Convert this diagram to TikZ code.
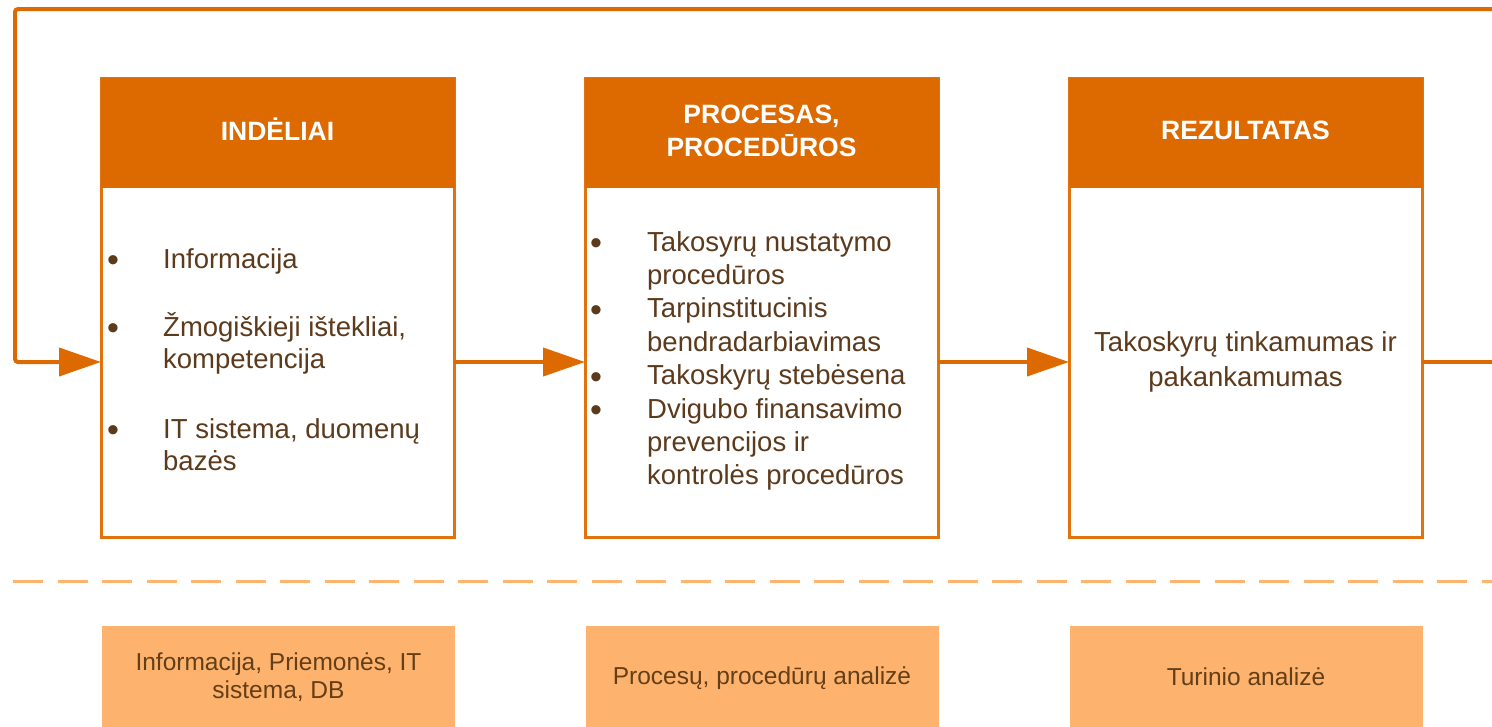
\documentclass[tikz,border=0pt]{standalone}
\usepackage{fontspec}
\setmainfont{Liberation Sans}
\usetikzlibrary{arrows.meta}
\definecolor{hdr}{RGB}{221,106,0}
\definecolor{brd}{RGB}{226,114,12}
\definecolor{lt}{RGB}{253,179,110}
\definecolor{dsh}{RGB}{255,180,112}
\definecolor{txt}{RGB}{92,58,28}
\definecolor{btxt}{RGB}{100,62,22}
\begin{document}
\begin{tikzpicture}[x=1pt,y=-1pt,
  bodybox/.style={draw=brd, line width=3pt, fill=white, anchor=north west, minimum width=353pt, minimum height=459pt, inner sep=0pt, outer sep=0pt},
  hdrbox/.style={fill=hdr, draw=hdr, line width=1pt, anchor=north west, minimum width=353pt, minimum height=109pt, inner sep=0pt, outer sep=0pt},
  lowbox/.style={fill=lt, draw=lt, line width=0.5pt, anchor=north west, minimum width=352pt, minimum height=100pt, inner sep=0pt, outer sep=0pt},
  hdrtext/.style={text=white, font=\fontsize{26.5}{31}\selectfont\bfseries, inner sep=0pt, anchor=base},
  bodytext/.style={text=txt, font=\fontsize{27.5}{33}\selectfont, inner sep=0pt, anchor=base west},
  ctrtext/.style={text=txt, font=\fontsize{27.5}{33}\selectfont, inner sep=0pt, anchor=base},
  bul/.style={text=txt, font=\fontsize{34}{34}\selectfont, inner sep=0pt, anchor=base},
  lowtext/.style={text=btxt, font=\fontsize{24.5}{28}\selectfont, inner sep=0pt, anchor=base},
  conn/.style={draw=hdr, line width=4pt, -{Triangle[length=42pt,width=28pt]}},
  loopline/.style={draw=hdr, line width=4pt, rounded corners=3pt},
  dashline/.style={draw=dsh, line width=3pt, dash pattern=on 30pt off 14.5pt}
]
\useasboundingbox (0,0) rectangle (1492,726);

% feedback loop and guide coordinates
\coordinate (mid) at (0,362);
\coordinate (tl) at (15,9);
\coordinate (tr) at (1494,9);
\coordinate (rr) at (1494,362);
\coordinate (dl) at (13,581.5);
\coordinate (dr) at (1494,581.5);

% main boxes
\node[bodybox] (b1) at (101,78) {};
\node[bodybox] (b2) at (585,78) {};
\node[bodybox] (b3) at (1069,78) {};
\node[hdrbox] (h1) at (101,78) {};
\node[hdrbox] (h2) at (585,78) {};
\node[hdrbox] (h3) at (1069,78) {};

% headers
\node[hdrtext] (t1) at (277.5,140) {INDĖLIAI};
\node[hdrtext] (t2a) at (761.5,123) {PROCESAS,};
\node[hdrtext] (t2b) at (761.5,156) {PROCEDŪROS};
\node[hdrtext] (t3) at (1245.5,139) {REZULTATAS};

% box 1 contents
\node[bul] (u11) at (113,271.5) {•};
\node[bul] (u12) at (113,339.5) {•};
\node[bul] (u13) at (113,441.5) {•};
\node[bodytext] (l11) at (163,268) {Informacija};
\node[bodytext] (l12) at (163,336) {Žmogiškieji ištekliai,};
\node[bodytext] (l13) at (163,368) {kompetencija};
\node[bodytext] (l14) at (163,438) {IT sistema, duomenų};
\node[bodytext] (l15) at (163,470) {bazės};

% box 2 contents
\node[bul] (u21) at (596,254.5) {•};
\node[bul] (u22) at (596,321.3) {•};
\node[bul] (u23) at (596,388.1) {•};
\node[bul] (u24) at (596,421.5) {•};
\node[bodytext] (l21) at (647,251) {Takosyrų nustatymo};
\node[bodytext] (l22) at (647,284.4) {procedūros};
\node[bodytext] (l23) at (647,317.8) {Tarpinstitucinis};
\node[bodytext] (l24) at (647,351.2) {bendradarbiavimas};
\node[bodytext] (l25) at (647,384.6) {Takoskyrų stebėsena};
\node[bodytext] (l26) at (647,418) {Dvigubo finansavimo};
\node[bodytext] (l27) at (647,451.4) {prevencijos ir};
\node[bodytext] (l28) at (647,484.8) {kontrolės procedūros};

% box 3 contents
\node[ctrtext] (l31) at (1245.5,351) {Takoskyrų tinkamumas ir};
\node[ctrtext] (l32) at (1245.5,386) {pakankamumas};

% connectors
\draw[loopline, -{Triangle[length=42pt,width=28pt]}] (tr) -- (tl) -- (tl |- mid) -- (b1.west |- mid);
\draw[conn] (b1.east |- mid) -- (b2.west |- mid);
\draw[conn] (b2.east |- mid) -- (b3.west |- mid);
\draw[loopline] (b3.east |- mid) -- (rr);

% dashed separator
\draw[dashline] (dl) -- (dr);

% lower boxes
\node[lowbox] (p1) at (102.5,626) {};
\node[lowbox] (p2) at (586,626) {};
\node[lowbox] (p3) at (1070,626) {};
\node[lowtext] (m1a) at (278.5,670) {Informacija, Priemonės, IT};
\node[lowtext] (m1b) at (278.5,698) {sistema, DB};
\node[lowtext] (m2) at (762,684) {Procesų, procedūrų analizė};
\node[lowtext] (m3) at (1246,685) {Turinio analizė};
\end{tikzpicture}
\end{document}
